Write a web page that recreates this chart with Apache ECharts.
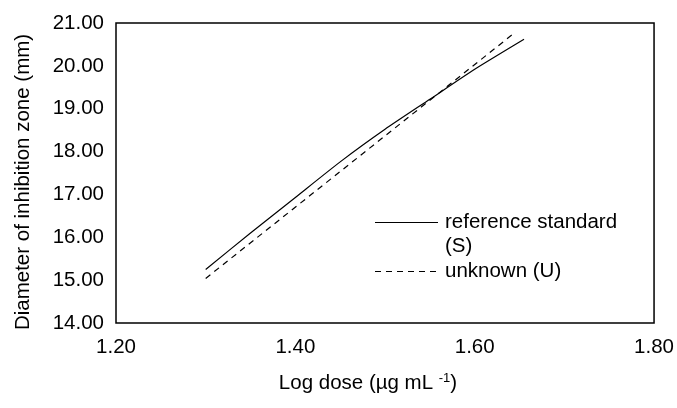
<!DOCTYPE html>
<html>
<head>
<meta charset="utf-8">
<script src="https://cdn.jsdelivr.net/npm/echarts@6/dist/echarts.min.js"></script>
<style>html,body{margin:0;padding:0;background:#fff;}#c{width:677px;height:408px;}</style>
</head>
<body>
<div id="c"></div>
<script>
// Data
var standardDose = [1.30, 1.35, 1.40, 1.45, 1.50, 1.55, 1.60, 1.655];
var standardZone = [15.25, 16.10, 16.93, 17.76, 18.52, 19.22, 19.92, 20.62];
var unknownDose = [1.30, 1.475, 1.645];
var unknownZone = [15.04, 17.95, 20.78];
var xTicks = [1.20, 1.40, 1.60, 1.80];
var yTicks = [14.00, 15.00, 16.00, 17.00, 18.00, 19.00, 20.00, 21.00];
var seriesNames = ['reference standard (S)', 'unknown (U)'];

var FONT = 'Liberation Sans, Arial, sans-serif';
var FS = 20.5;
function pairs(xs, ys) { return xs.map(function (x, i) { return [x, ys[i]]; }); }

var chart = echarts.init(document.getElementById('c'), null, { renderer: 'canvas' });
chart.setOption({
  animation: false,
  backgroundColor: '#fff',
  grid: { left: 116, top: 23, right: 20, bottom: 85, show: true, borderColor: '#000', borderWidth: 1.5 },
  xAxis: {
    type: 'value', min: xTicks[0], max: xTicks[xTicks.length - 1], interval: 0.2,
    axisLine: { show: false }, axisTick: { show: false }, splitLine: { show: false },
    axisLabel: { color: '#000', fontFamily: FONT, fontSize: FS, margin: 14,
      formatter: function (v) { return v.toFixed(2); } }
  },
  yAxis: {
    type: 'value', min: yTicks[0], max: yTicks[yTicks.length - 1], interval: 1,
    axisLine: { show: false }, axisTick: { show: false }, splitLine: { show: false },
    axisLabel: { color: '#000', fontFamily: FONT, fontSize: FS, margin: 12,
      formatter: function (v) { return v.toFixed(2); } }
  },
  series: [
    { name: seriesNames[0], type: 'line', data: pairs(standardDose, standardZone), smooth: 0.2,
      showSymbol: false, lineStyle: { color: '#000', width: 1.2, type: 'solid' } },
    { name: seriesNames[1], type: 'line', data: pairs(unknownDose, unknownZone),
      showSymbol: false, lineStyle: { color: '#000', width: 1.2, type: [6, 5] } }
  ],
  graphic: [
    { type: 'text', x: 23, y: 182, rotation: Math.PI / 2,
      style: { text: 'Diameter of inhibition zone (mm)', fill: '#000', font: FS + 'px ' + FONT,
        align: 'center', verticalAlign: 'middle' } },
    { type: 'text', x: 368, y: 383,
      style: { text: '{n|Log dose (µg mL }{s|-1}{n|)}', align: 'center', verticalAlign: 'middle',
        rich: { n: { fontSize: FS, fontFamily: FONT, fill: '#000' },
                s: { fontSize: 13, fontFamily: FONT, fill: '#000', verticalAlign: 'top', padding: [0, 0, 10, 0] } } } },
    { type: 'line', shape: { x1: 375, y1: 222.5, x2: 438, y2: 222.5 }, style: { stroke: '#000', lineWidth: 1.2 } },
    { type: 'text', x: 445, y: 222, style: { text: 'reference standard', fill: '#000', font: FS + 'px ' + FONT, verticalAlign: 'middle' } },
    { type: 'text', x: 445, y: 246, style: { text: '(S)', fill: '#000', font: FS + 'px ' + FONT, verticalAlign: 'middle' } },
    { type: 'line', shape: { x1: 375, y1: 271.5, x2: 438, y2: 271.5 }, style: { stroke: '#000', lineWidth: 1.2, lineDash: [6, 5] } },
    { type: 'text', x: 445, y: 271, style: { text: 'unknown (U)', fill: '#000', font: FS + 'px ' + FONT, verticalAlign: 'middle' } }
  ]
});
</script>
</body>
</html>
